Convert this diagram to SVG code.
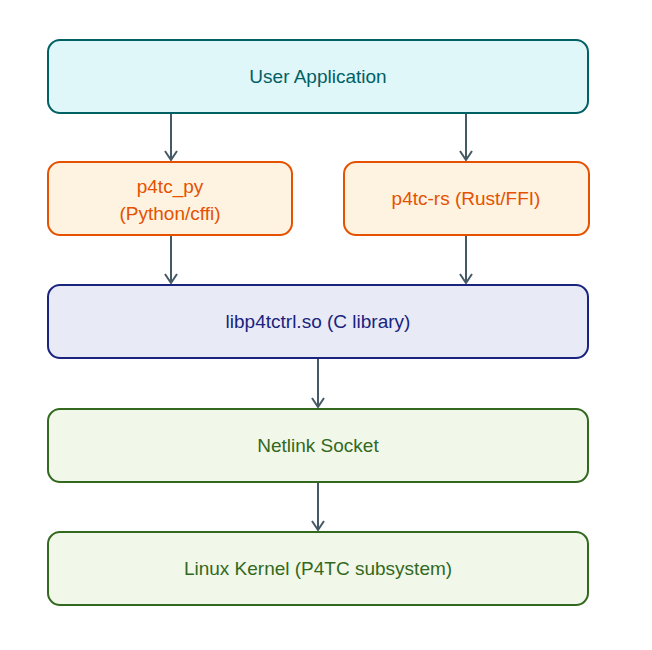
<svg xmlns="http://www.w3.org/2000/svg" width="652" height="650" viewBox="0 0 652 650">
<style>
text{font-family:"Liberation Sans",sans-serif;font-size:19px;text-anchor:middle;dominant-baseline:central}
rect{stroke-width:2}
.c{fill:#e0f7fa;stroke:#006064}.ct{fill:#006064}
.o{fill:#fdf3e0;stroke:#e65100}.ot{fill:#e65100}
.b{fill:#e8eaf6;stroke:#1a237e}.bt{fill:#1a237e}
.g{fill:#f1f8e9;stroke:#33691e}.gt{fill:#33691e}
.e{stroke:#455a64;stroke-width:2;fill:none;marker-end:url(#a)}
</style>
<defs><marker id="a" markerWidth="14" markerHeight="14" refX="10" refY="7" orient="auto" markerUnits="userSpaceOnUse"><path d="M1,1 L10,7 L1,13" fill="none" stroke="#455a64" stroke-width="2"/></marker></defs>
<rect width="652" height="650" fill="#fff"/>
<g id="edges">
<line class="e" x1="171" y1="113" x2="171" y2="160"/>
<line class="e" x1="466" y1="113" x2="466" y2="160"/>
<line class="e" x1="171" y1="235" x2="171" y2="283"/>
<line class="e" x1="466" y1="235" x2="466" y2="283"/>
<line class="e" x1="318" y1="358" x2="318" y2="407"/>
<line class="e" x1="318" y1="482" x2="318" y2="530"/>
</g>
<g id="app"><rect class="c" x="48" y="40" width="540" height="73" rx="12"/><text class="ct" x="318" y="76">User Application</text></g>
<g id="py"><rect class="o" x="48" y="162" width="244" height="73" rx="12"/><text class="ot" x="170" y="186">p4tc_py</text><text class="ot" x="170" y="213">(Python/cffi)</text></g>
<g id="rs"><rect class="o" x="344" y="162" width="245" height="73" rx="12"/><text class="ot" x="466" y="198">p4tc-rs (Rust/FFI)</text></g>
<g id="lib"><rect class="b" x="48" y="285" width="540" height="73" rx="12"/><text class="bt" x="318" y="321">libp4tctrl.so (C library)</text></g>
<g id="netlink"><rect class="g" x="48" y="409" width="540" height="73" rx="12"/><text class="gt" x="318" y="445">Netlink Socket</text></g>
<g id="kernel"><rect class="g" x="48" y="532" width="540" height="73" rx="12"/><text class="gt" x="318" y="568">Linux Kernel (P4TC subsystem)</text></g>
</svg>
